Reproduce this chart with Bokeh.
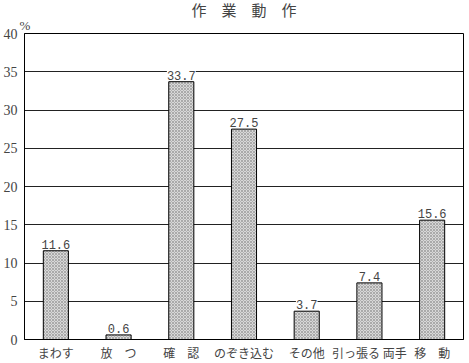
from bokeh.plotting import figure
from bokeh.models import Range1d, ColumnDataSource, LabelSet, Title, SingleIntervalTicker
from bokeh.core.properties import value
from bokeh.embed import file_html
from bokeh.resources import INLINE

categories = ["まわす", "放　つ", "確　認", "のぞき込む", "その他", "引っ張る 両手", "移　動"]
values = [11.6, 0.6, 33.7, 27.5, 3.7, 7.4, 15.6]
value_labels = ["11.6", "0.6", "33.7", "27.5", "3.7", "7.4", "15.6"]

CJK = "Noto Sans CJK JP"
SERIF = "Liberation Serif"
MONO = "Liberation Mono"

src = ColumnDataSource(dict(cat=categories, val=values, lab=value_labels))

p = figure(x_range=categories, y_range=Range1d(0, 40),
           width=469, height=363,
           output_backend="svg", toolbar_location=None,
           min_border_left=22, min_border_right=6, min_border_top=0, min_border_bottom=20)

# main title (outermost)
p.title.text = "作　業　動　作"
p.title.align = "center"
p.title.text_font = CJK
p.title.text_font_size = "15px"
p.title.text_font_style = "normal"
p.title.standoff = -8

# "%" unit line (closest to the plot)
unit = Title(text="%", align="left", offset=-5, text_font=SERIF,
             text_font_size="13px", text_font_style="normal", standoff=1)
p.add_layout(unit, "above")

p.vbar(x="cat", top="val", width=0.4, source=src,
       fill_color="#d8d8d8", line_color="black", line_width=1,
       hatch_pattern="diagonal_cross", hatch_color="#777777",
       hatch_scale=3, hatch_weight=0.6, hatch_alpha=0.8)

labels = LabelSet(x="cat", y="val", text="lab", source=src, y_offset=2,
                  text_align="center", text_baseline="bottom",
                  text_font=value(MONO), text_font_size=value("12px"),
                  background_fill_color="white")
p.add_layout(labels)

p.yaxis.ticker = SingleIntervalTicker(interval=5)
p.yaxis.major_tick_line_color = None
p.yaxis.major_tick_out = 0
p.yaxis.major_tick_in = 0
p.yaxis.minor_tick_line_color = None
p.yaxis.axis_line_color = "black"
p.yaxis.major_label_text_font = SERIF
p.yaxis.major_label_text_font_size = "14px"
p.yaxis.major_label_standoff = 3

p.xaxis.major_tick_line_color = None
p.xaxis.major_tick_out = 0
p.xaxis.major_tick_in = 0
p.xaxis.axis_line_color = "black"
p.xaxis.major_label_text_font = CJK
p.xaxis.major_label_text_font_size = "12px"
p.xaxis.major_label_standoff = 4

p.xgrid.grid_line_color = None
p.ygrid.grid_line_color = "#222222"
p.ygrid.grid_line_width = 1

p.outline_line_color = "black"
p.outline_line_width = 1
p.background_fill_color = "white"
p.border_fill_color = "white"

open("out.html", "w").write(file_html(p, INLINE))
